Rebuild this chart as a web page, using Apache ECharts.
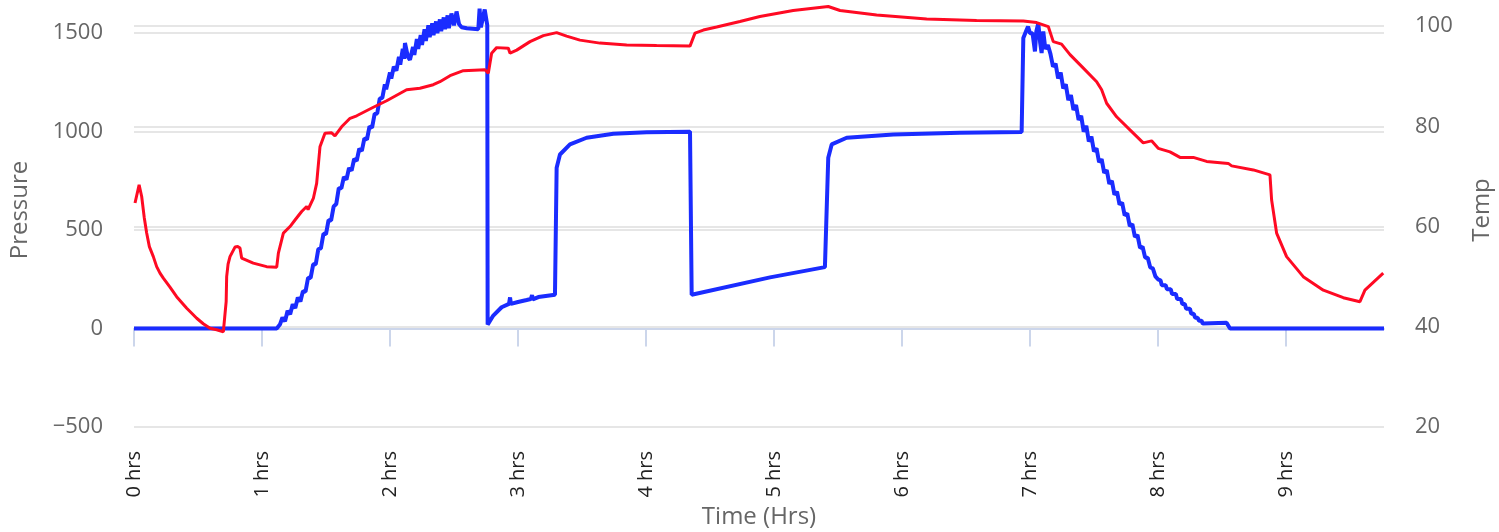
<!DOCTYPE html>
<html>
<head>
<meta charset="utf-8">
<script src="https://cdn.jsdelivr.net/npm/echarts@6/dist/echarts.min.js"></script>
<style>
html,body{margin:0;padding:0;background:#fff;}
#chart{width:1499px;height:532px;}
</style>
</head>
<body>
<div id="chart"></div>
<script>
// Time (hrs) and values
const pressureTime = [0,1.115,1.14,1.16,1.18,1.20,1.22,1.24,1.26,1.28,1.30,1.32,1.34,1.36,1.38,1.40,1.42,1.44,1.46,1.48,1.50,1.52,1.54,1.56,1.58,1.60,1.62,1.64,1.66,1.68,1.70,1.72,1.74,1.76,1.78,1.80,1.82,1.84,1.86,1.88,1.90,1.92,1.94,1.96,1.97,2.0,2.01,2.03,2.05,2.07,2.08,2.1,2.11,2.117,2.14,2.156,2.18,2.19,2.21,2.22,2.24,2.25,2.27,2.28,2.3,2.31,2.33,2.34,2.36,2.37,2.39,2.40,2.42,2.43,2.45,2.46,2.48,2.50,2.52,2.54,2.56,2.6,2.69,2.70,2.71,2.72,2.74,2.755,2.76,2.763,2.807,2.872,2.93,2.938,2.945,3.0,3.068,3.10,3.11,3.115,3.159,3.289,3.302,3.328,3.406,3.536,3.745,4.005,4.344,4.357,4.969,5.398,5.424,5.451,5.568,5.932,6.453,6.935,6.948,6.974,6.985,7.0,7.02,7.039,7.05,7.065,7.08,7.091,7.104,7.12,7.14,7.16,7.18,7.20,7.22,7.24,7.26,7.28,7.30,7.32,7.34,7.36,7.38,7.40,7.42,7.44,7.46,7.48,7.50,7.52,7.54,7.56,7.58,7.60,7.62,7.64,7.66,7.68,7.70,7.72,7.74,7.76,7.78,7.80,7.82,7.84,7.86,7.88,7.90,7.92,7.94,7.96,7.98,8.00,8.02,8.03,8.06,8.07,8.10,8.11,8.14,8.15,8.18,8.19,8.21,8.22,8.25,8.26,8.28,8.29,8.31,8.32,8.34,8.35,8.536,8.563,9.766];
const pressureValues = [0,0,20,56,37,90,72,123,104,158,137,190,187,258,257,326,327,403,407,481,480,550,549,620,632,713,712,770,757,815,802,861,852,913,902,966,960,1026,1020,1090,1092,1168,1172,1240,1215,1300,1270,1330,1310,1380,1340,1420,1370,1450,1380,1365,1430,1390,1470,1420,1490,1440,1520,1460,1540,1480,1550,1490,1560,1500,1570,1510,1580,1520,1590,1525,1600,1540,1610,1545,1530,1525,1520,1625,1530,1540,1620,1560,1540,20,66,108,125,158,125,135,145,150,170,148,160,172,817,884,935,969,989,997,1000,172,260,312,867,935,969,986,994,998,1475,1517,1534,1500,1500,1407,1510,1551,1450,1399,1509,1420,1440,1395,1330,1345,1270,1300,1220,1240,1160,1185,1110,1135,1060,1080,1000,1030,950,975,900,915,845,860,790,805,735,750,680,695,630,640,575,585,520,530,465,475,410,415,360,360,310,305,265,250,245,220,220,200,200,175,175,150,150,125,125,100,100,75,75,55,55,40,40,25,30,0,0];

const tempTime = [0.008,0.04,0.06,0.08,0.099,0.12,0.151,0.177,0.203,0.229,0.281,0.333,0.412,0.49,0.541,0.594,0.646,0.698,0.712,0.72,0.724,0.735,0.75,0.789,0.81,0.828,0.841,0.932,1.036,1.115,1.128,1.167,1.219,1.258,1.31,1.349,1.36,1.401,1.427,1.453,1.492,1.544,1.57,1.622,1.688,1.74,1.87,1.974,2.13,2.234,2.338,2.39,2.469,2.573,2.742,2.768,2.794,2.833,2.924,2.938,2.99,3.094,3.198,3.302,3.38,3.484,3.64,3.849,4.083,4.344,4.357,4.383,4.448,4.552,4.734,4.89,5.15,5.424,5.516,5.802,6.193,6.583,6.948,7.052,7.143,7.182,7.247,7.313,7.417,7.521,7.56,7.599,7.677,7.781,7.885,7.95,8.002,8.094,8.172,8.276,8.38,8.549,8.576,8.745,8.875,8.888,8.927,9.005,9.135,9.292,9.448,9.578,9.617,9.76];
const tempValues = [64.7,68.3,66.0,61.8,58.7,56.0,54.0,52.0,50.7,49.7,47.9,46.0,43.7,41.7,40.6,39.7,39.4,39.0,39.3,45.0,50.0,52.5,54.0,55.9,56.0,55.7,53.7,52.7,52.0,51.9,54.7,58.7,60.0,61.3,63.0,64.0,63.4,65.6,68.6,75.9,78.6,78.7,78.1,79.9,81.6,82.1,83.8,85.1,87.3,87.6,88.3,88.9,90.1,91.1,91.3,90.6,94.6,95.7,95.6,94.6,95.2,96.9,98.1,98.7,98.0,97.2,96.6,96.2,96.1,96.0,96.3,98.6,99.2,99.8,100.9,101.9,103.1,103.9,103.1,102.2,101.4,101.1,101.0,100.7,99.9,96.9,96.4,94.3,91.6,88.9,87.3,84.6,81.9,79.3,76.7,77.1,75.6,74.9,73.8,73.8,73.0,72.6,72.1,71.3,70.3,65.3,58.7,54.0,50.0,47.3,45.8,45.0,47.3,50.7];

const xTickValues = [0,1,2,3,4,5,6,7,8,9];
const pressureTicks = [-500,0,500,1000,1500];
const tempTicks = [20,40,60,80,100];

const pressureData = pressureTime.map((t,i)=>[t,pressureValues[i]]);
const tempData = tempTime.map((t,i)=>[t,tempValues[i]]);

const FONT = '"Open Sans", "DejaVu Sans", sans-serif';
const numFmt = (v)=> v < 0 ? '\u2212' + Math.abs(v) : String(v);
const chart = echarts.init(document.getElementById('chart'), null, {renderer:'canvas'});
chart.setOption({
  animation:false,
  backgroundColor:'#ffffff',
  grid:{left:134, right:115, top:-7, bottom:105, containLabel:false, outerBoundsMode:'none'},
  xAxis:{
    type:'value', min:0, max:9.766,
    name:'Time (Hrs)', nameLocation:'middle', nameGap:77,
    nameTextStyle:{color:'#666666', fontSize:24, fontFamily:FONT},
    axisLine:{show:true, lineStyle:{color:'#ccd6eb', width:2}},
    axisTick:{show:true, length:18, lineStyle:{color:'#ccd6eb', width:2}, customValues:xTickValues},
    axisLabel:{rotate:90, margin:24, color:'#222222', fontSize:20, fontFamily:FONT,
      customValues:xTickValues, formatter:(v)=>v+' hrs'},
    splitLine:{show:false}
  },
  yAxis:[
    {
      type:'value', min:-500, max:1704, position:'left',
      name:'Pressure', nameLocation:'middle', nameGap:102,
      nameTextStyle:{color:'#666666', fontSize:24, fontFamily:FONT},
      axisLine:{show:false}, axisTick:{show:false, customValues:pressureTicks},
      axisLabel:{margin:31, color:'#666666', fontSize:22, fontFamily:FONT, customValues:pressureTicks, formatter:numFmt},
      splitLine:{show:true, lineStyle:{color:'#e6e6e6', width:2}}
    },
    {
      type:'value', min:20, max:106.6, position:'right',
      name:'Temp', nameLocation:'middle', nameGap:86,
      nameTextStyle:{color:'#666666', fontSize:24, fontFamily:FONT},
      axisLine:{show:false}, axisTick:{show:false, customValues:tempTicks},
      axisLabel:{margin:31, color:'#666666', fontSize:22, fontFamily:FONT, customValues:tempTicks, formatter:numFmt},
      splitLine:{show:true, lineStyle:{color:'#e6e6e6', width:2}}
    }
  ],
  series:[
    {name:'Pressure', type:'line', yAxisIndex:0, data:pressureData, showSymbol:false,
     lineStyle:{color:'#1a2cff', width:4}, itemStyle:{color:'#1a2cff'}},
    {name:'Temp', type:'line', yAxisIndex:1, data:tempData, showSymbol:false,
     lineStyle:{color:'#ff0a23', width:3}, itemStyle:{color:'#ff0a23'}}
  ]
});
</script>
</body>
</html>
